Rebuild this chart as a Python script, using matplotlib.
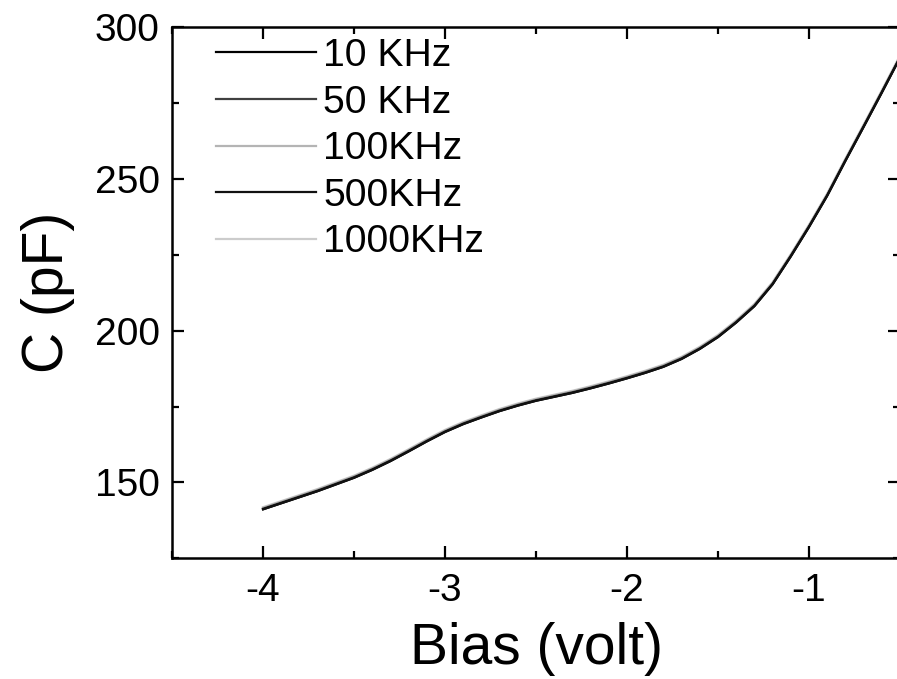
import matplotlib
matplotlib.use("Agg")
import matplotlib.pyplot as plt
from matplotlib.ticker import MultipleLocator
import numpy as np

plt.rcParams['font.family'] = ['Liberation Sans', 'DejaVu Sans']

# bias (V) and capacitance (pF)
bias = [-4.0, -3.9, -3.8, -3.7, -3.6, -3.5, -3.4, -3.3, -3.2, -3.1, -3.0,
        -2.9, -2.8, -2.7, -2.6, -2.5, -2.4, -2.3, -2.2, -2.1, -2.0, -1.9,
        -1.8, -1.7, -1.6, -1.5, -1.4, -1.3, -1.2, -1.1, -1.0, -0.9, -0.8,
        -0.7, -0.6, -0.5]
cap = [141.1, 143.1, 145.1, 147.1, 149.3, 151.5, 154.1, 157.0, 160.2, 163.5,
       166.6, 169.2, 171.4, 173.5, 175.3, 176.9, 178.2, 179.5, 181.0, 182.6,
       184.3, 186.1, 188.1, 190.7, 194.0, 197.9, 202.7, 208.1, 215.3, 224.5,
       234.2, 244.5, 256.0, 267.2, 278.5, 290.0]

# the five curves nearly coincide; grey ones sit a hair higher
labels = ['10 KHz', '50 KHz', '100KHz', '500KHz', '1000KHz']
cap_shift = [0.0, 0.2, 0.5, 0.0, 0.7]
colors = ['#000000', '#404040', '#b4b4b4', '#111111', '#cccccc']
zorders = [5, 4, 3, 6, 2]

fig = plt.figure(figsize=(8.97, 6.79), dpi=100)
ax = fig.add_axes([0.1918, 0.178, 0.8115, 0.7815])

for lab, sh, c, z in zip(labels, cap_shift, colors, zorders):
    ax.plot(bias, np.array(cap) + sh, color=c, lw=1.6, label=lab, zorder=z)

ax.set_xlim(-4.5, -0.5)
ax.set_ylim(125, 300)
ax.xaxis.set_major_locator(MultipleLocator(1))
ax.xaxis.set_minor_locator(MultipleLocator(0.5))
ax.yaxis.set_major_locator(MultipleLocator(50))
ax.yaxis.set_minor_locator(MultipleLocator(25))

ax.tick_params(which='both', direction='in', top=True, right=True, width=1.6)
ax.tick_params(which='major', length=8.5, labelsize=28)
ax.tick_params(which='minor', length=5)
ax.tick_params(axis='x', which='major', pad=11)
ax.tick_params(axis='y', which='major', pad=9)
for sp in ax.spines.values():
    sp.set_linewidth(1.8)
ax.spines['right'].set_visible(False)  # cut off by the image edge

ax.set_xticklabels([f'{t:g}' for t in ax.get_xticks()])
ax.set_yticklabels([f'{t:g}' for t in ax.get_yticks()])

ax.set_xlabel('Bias (volt)', fontsize=41, labelpad=9)
ax.set_ylabel('C (pF)', fontsize=41, labelpad=14)

ax.legend(loc='upper left', bbox_to_anchor=(0.06, 0.98), frameon=False,
          fontsize=28.2, handlelength=2.55, handletextpad=0.2,
          labelspacing=0.27, borderpad=0, borderaxespad=0)

fig.savefig('out.png', dpi=100)
